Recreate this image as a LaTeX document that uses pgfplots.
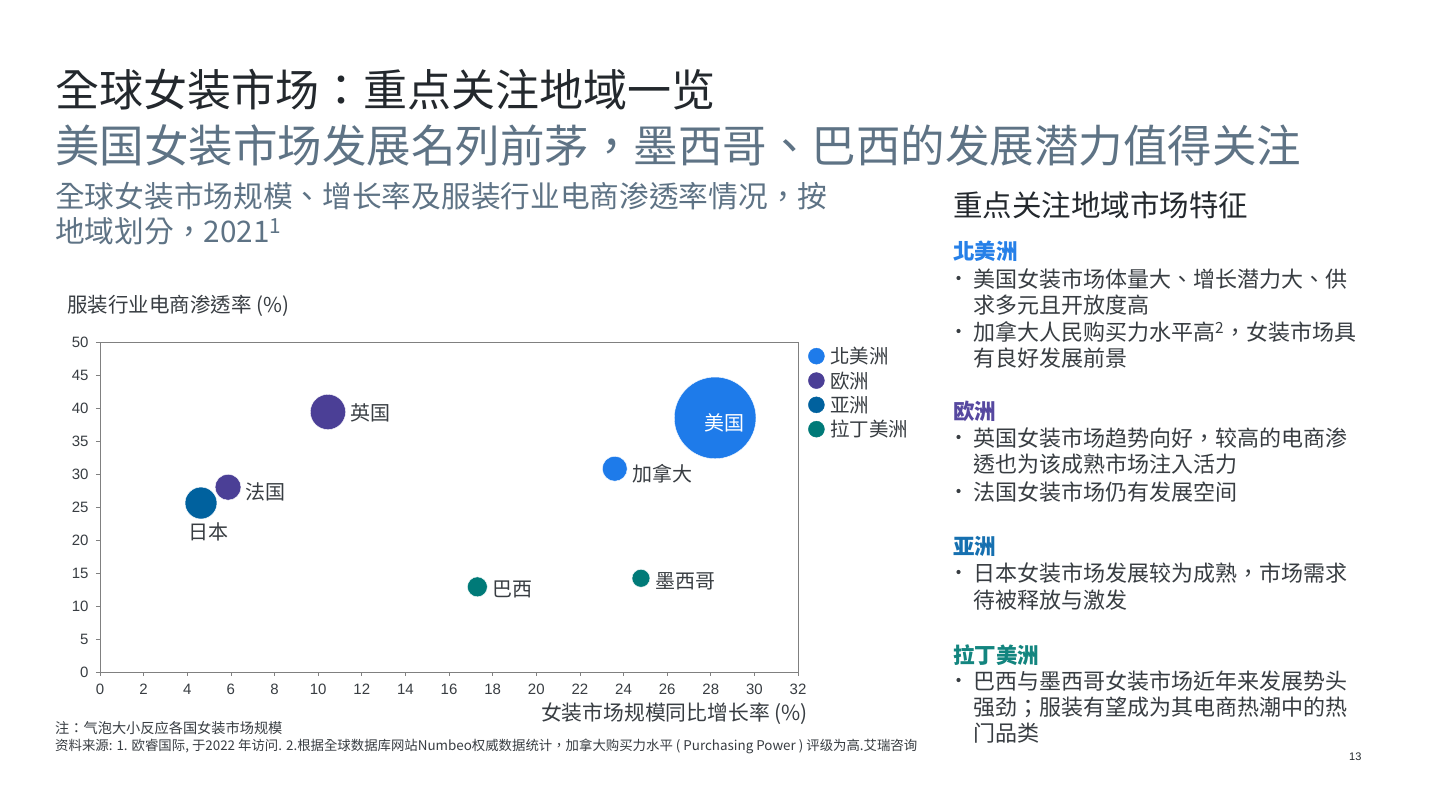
\documentclass[border=0pt]{standalone}
\usepackage{fontspec}
\setmainfont{Noto Sans CJK TC}
\newfontfamily\arial{Liberation Sans}
\usepackage{pgfplots}
\usepackage{pgfplotstable}
\pgfplotsset{compat=1.18}

\definecolor{cNA}{HTML}{1E7BEA}
\definecolor{cEU}{HTML}{4B3F96}
\definecolor{cAS}{HTML}{00619E}
\definecolor{cLA}{HTML}{007A78}
\definecolor{hNA}{HTML}{2680E8}
\definecolor{hEU}{HTML}{5648A0}
\definecolor{hAS}{HTML}{1670B0}
\definecolor{hLA}{HTML}{13857F}
\definecolor{titlec}{HTML}{23282D}
\definecolor{subc}{HTML}{5E7385}
\definecolor{bodyc}{HTML}{383D42}

\newcommand\fs[1]{\fontsize{#1bp}{#1bp}\selectfont}

% growth rate (%), e-commerce penetration (%), bubble radius (px)
\pgfplotstableread{
x    y    r
28.2 38.5 41
23.6 30.8 12.5
}\northamerica
\pgfplotstableread{
x     y    r
10.45 39.4 17.7
5.87  28.0 13
}\europe
\pgfplotstableread{
x    y    r
4.63 25.6 16
}\asia
\pgfplotstableread{
x    y    r
17.3 12.9 10
24.8 14.2 9
}\latam

\pgfplotsset{
  bubble/.style={
    scatter, only marks, mark=*,
    scatter/use mapped color={draw=white, fill=#1},
    visualization depends on={\thisrow{r}\as\rad},
    scatter/@pre marker code/.append style={/tikz/mark size=\rad, /tikz/line width=0.8bp},
    legend image code/.code={\path[draw=none, fill=none] (0bp,-1bp) rectangle (20bp,1bp); \fill[#1] (8bp,0bp) circle (8bp);},
  },
}

\begin{document}
\begin{tikzpicture}[x=1bp,y=1bp]
\path[fill=white, use as bounding box] (0,0) rectangle (1430,804);
\coordinate (O) at (100,132);

% titles
\node[anchor=west, inner sep=0, font=\fs{44}, text=titlec] at (55,804-90) {全球女装市场：重点关注地域一览};
\node[anchor=west, inner sep=0, font=\fs{44.5}, text=subc] at (55,804-145) {美国女装市场发展名列前茅，墨西哥、巴西的发展潜力值得关注};
\node[anchor=west, inner sep=0, font=\fs{29.7}, text=subc] at (55,804-196) {全球女装市场规模、增长率及服装行业电商渗透率情况，按};
\node[anchor=west, inner sep=0, font=\fs{29.7}, text=subc] at (55,804-231) {地域划分，2021\textsuperscript{1}};

% axis titles
\node[anchor=west, inner sep=0, font=\fs{20.5}, text=bodyc] at (67,804-306) {服装行业电商渗透率 (\%)};
\node[anchor=east, inner sep=0, font=\fs{20.8}, text=bodyc] at (808,804-714) {女装市场规模同比增长率 (\%)};

\begin{axis}[
  at={(O)}, anchor=south west,
  scale only axis, width=698bp, height=330bp,
  xmin=0, xmax=32, ymin=0, ymax=50,
  xtick distance=2, ytick distance=5,
  axis line style={black!50, line width=0.8bp},
  tick align=outside, xtick pos=bottom, ytick pos=left,
  major tick length=4bp, tick style={black!50, line width=0.6bp},
  tick label style={font=\arial\fs{15}, text=bodyc},
  xticklabel style={yshift=-5bp},
  yticklabel style={xshift=-4bp},
  /pgf/number format/assume math mode=true,
  clip=false,
  legend style={draw=none, fill=none, at={(1,1)}, anchor=north west,
    xshift=10bp, yshift=-3bp, font=\fs{19.5}, text=bodyc,
    row sep=2.5bp, inner sep=0pt, cells={anchor=west}},
  legend cell align=left,
]
\addplot[bubble=cNA] table[x=x, y=y] {\northamerica};
\addlegendentry{北美洲}
\addplot[bubble=cEU] table[x=x, y=y] {\europe};
\addlegendentry{欧洲}
\addplot[bubble=cAS] table[x=x, y=y] {\asia};
\addlegendentry{亚洲}
\addplot[bubble=cLA] table[x=x, y=y] {\latam};
\addlegendentry{拉丁美洲}

\coordinate (usa) at (axis cs:28.65,37.7);
\begin{scope}[every node/.style={inner sep=0, font=\fs{20}, text=bodyc}]
\node[anchor=west] at (axis cs:24.38,30.0) {加拿大};
\node[anchor=west] at (axis cs:11.48,39.24) {英国};
\node[anchor=west] at (axis cs:6.66,27.27) {法国};
\node[anchor=center] at (axis cs:4.96,21.2) {日本};
\node[anchor=west] at (axis cs:18.0,12.58) {巴西};
\node[anchor=west] at (axis cs:25.44,13.8) {墨西哥};
\end{scope}
\end{axis}
\node[inner sep=0, font=\fs{20}, text=white] at (usa) {美国};

% notes
\node[anchor=west, inner sep=0, font=\fs{14.2}, text=bodyc] at (55,804-728) {注：气泡大小反应各国女装市场规模};
\node[anchor=west, inner sep=0, font=\fs{13.4}, text=bodyc] at (55,804-746) {资料来源: 1. 欧睿国际, 于2022 年访问. 2.根据全球数据库网站Numbeo权威数据统计，加拿大购买力水平 ( Purchasing Power ) 评级为高.艾瑞咨询};

% right panel
\begin{scope}[every node/.style={anchor=west, inner sep=0, font=\fs{22}, text=bodyc}]
\node[font=\fs{29.5}, text=titlec] at (953,804-205) {重点关注地域市场特征};
\node[font=\fs{21.5}\bfseries, text=hNA] at (953,804-251) {北美洲};
\node at (973,804-279) {美国女装市场体量大、增长潜力大、供};
\node at (973,804-305) {求多元且开放度高};
\node at (973,804-332) {加拿大人民购买力水平高\textsuperscript{2}，女装市场具};
\node at (973,804-358) {有良好发展前景};
\node[font=\fs{21.5}\bfseries, text=hEU] at (953,804-411) {欧洲};
\node at (973,804-438) {英国女装市场趋势向好，较高的电商渗};
\node at (973,804-464) {透也为该成熟市场注入活力};
\node at (973,804-492) {法国女装市场仍有发展空间};
\node[font=\fs{21.5}\bfseries, text=hAS] at (953,804-546) {亚洲};
\node at (973,804-573) {日本女装市场发展较为成熟，市场需求};
\node at (973,804-600) {待被释放与激发};
\node[font=\fs{21.5}\bfseries, text=hLA] at (953,804-655) {拉丁美洲};
\node at (973,804-681) {巴西与墨西哥女装市场近年来发展势头};
\node at (973,804-707) {强劲；服装有望成为其电商热潮中的热};
\node at (973,804-733) {门品类};
\node[font=\arial\fs{11}, text=titlec] at (1349,804-757) {13};
\end{scope}
\foreach \yy in {279,332,438,492,573,681} {\fill[bodyc] (958.5,804-\yy+1) circle (2.1);}
\end{tikzpicture}
\end{document}
